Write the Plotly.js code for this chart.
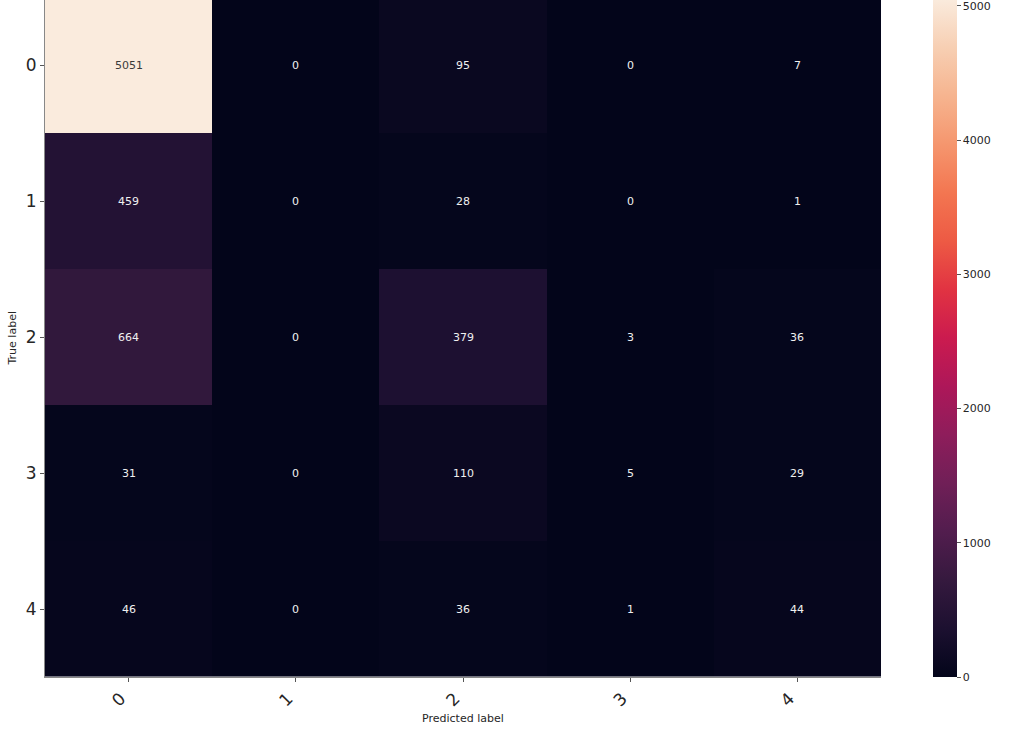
<!DOCTYPE html>
<html>
<head>
<meta charset="utf-8">
<script src="https://cdn.plot.ly/plotly-3.0.1.min.js"></script>
<style>html,body{margin:0;padding:0;background:#fff;}#chart{width:1027px;height:732px;}</style>
</head>
<body>
<div id="chart"></div>
<script>
const predictedLabels = ["0", "1", "2", "3", "4"];
const trueLabels = ["0", "1", "2", "3", "4"];
const row0 = [5051, 0, 95, 0, 7];
const row1 = [459, 0, 28, 0, 1];
const row2 = [664, 0, 379, 3, 36];
const row3 = [31, 0, 110, 5, 29];
const row4 = [46, 0, 36, 1, 44];
const matrix = [row0, row1, row2, row3, row4];
const colorbarTicks = [0, 1000, 2000, 3000, 4000, 5000];

const rocket = [
  [0.0, "#03051a"],
  [0.0714, "#1c1030"],
  [0.1429, "#35193e"],
  [0.2143, "#521d4e"],
  [0.2857, "#701f57"],
  [0.3571, "#8e1d5b"],
  [0.4286, "#ad1759"],
  [0.5, "#cb1b4f"],
  [0.5714, "#e13342"],
  [0.6429, "#ed5a44"],
  [0.7143, "#f37651"],
  [0.7857, "#f5966e"],
  [0.8571, "#f6b48f"],
  [0.9286, "#f7cfb3"],
  [1.0, "#faebdd"]
];

const zmax = 5051;
const annotations = [];
matrix.forEach((row, i) => {
  row.forEach((v, j) => {
    annotations.push({
      x: predictedLabels[j], y: trueLabels[i], xref: "x", yref: "y",
      text: String(v), showarrow: false,
      font: {family: "DejaVu Sans", size: 11, color: v / zmax > 0.6 ? "#3a3a3a" : "#f0f0f0"}
    });
  });
});
annotations.push({
  xref: "paper", yref: "paper", x: 0.5, y: 0, yshift: -41, xanchor: "center", yanchor: "middle",
  text: "Predicted label", showarrow: false, font: {family: "DejaVu Sans", size: 11, color: "#262626"}
});
annotations.push({
  xref: "paper", yref: "paper", x: 0, xshift: -33, y: 0.5, xanchor: "center", yanchor: "middle",
  text: "True label", textangle: -90, showarrow: false, font: {family: "DejaVu Sans", size: 11, color: "#262626"}
});

const trace = {
  type: "heatmap",
  x: predictedLabels,
  y: trueLabels,
  z: matrix,
  zmin: 0,
  zmax: zmax,
  colorscale: rocket,
  hoverinfo: "skip",
  colorbar: {
    x: 1.0622, xanchor: "left", xpad: 0,
    y: 0, yanchor: "bottom", ypad: 0,
    len: 1.0015, lenmode: "fraction",
    thickness: 24, thicknessmode: "pixels",
    outlinewidth: 0,
    tickmode: "array", tickvals: colorbarTicks, ticktext: colorbarTicks.map(String),
    ticklabeloverflow: "allow",
    ticks: "outside", ticklen: 4, tickwidth: 1, tickcolor: "#555",
    tickfont: {family: "DejaVu Sans", size: 11, color: "#262626"}
  }
};

const layout = {
  width: 1027, height: 732,
  margin: {l: 45, r: 146, t: 0, b: 55, autoexpand: false},
  paper_bgcolor: "#fff", plot_bgcolor: "#fff",
  xaxis: {
    type: "category", range: [-0.5, 4.5], automargin: false,
    tickangle: -45, ticks: "outside", ticklen: 4, tickcolor: "#555",
    ticklabelshift: -8,
    tickfont: {family: "DejaVu Sans", size: 17, color: "#262626"},
    showgrid: false, zeroline: false, showline: true, linecolor: "#888", linewidth: 1
  },
  yaxis: {
    type: "category", range: [4.5, -0.482], automargin: false,
    ticks: "outside", ticklen: 4, tickcolor: "#555",
    tickfont: {family: "DejaVu Sans", size: 17, color: "#262626"},
    showgrid: false, zeroline: false, showline: true, linecolor: "#888", linewidth: 1
  },
  annotations: annotations,
  showlegend: false
};

Plotly.newPlot("chart", [trace], layout, {displayModeBar: false, staticPlot: true});
</script>
</body>
</html>
